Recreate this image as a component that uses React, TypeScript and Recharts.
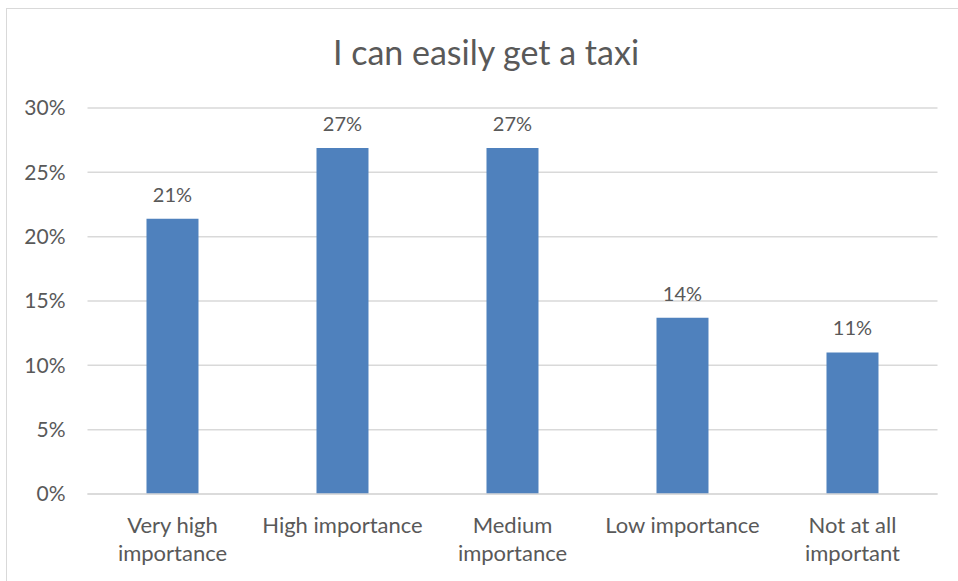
import React from "react";
import { BarChart, Bar, XAxis, YAxis, CartesianGrid, LabelList } from "recharts";

const categories = ["Very high\nimportance", "High importance", "Medium\nimportance", "Low importance", "Not at all\nimportant"];
const values = [0.214, 0.269, 0.269, 0.137, 0.11];
const yTicks = [0, 0.05, 0.1, 0.15, 0.2, 0.25, 0.3];

const data = categories.map((c, i) => ({ name: c, value: values[i] }));

const FONT = "Lato, 'Open Sans', sans-serif";
const TEXT = "#595959";

const pct = (v: number) => `${Math.round(v * 100)}%`;

const CatTick = (props: any) => {
  const { x, y, payload } = props;
  const lines = String(payload.value).split("\n");
  return (
    <g transform={`translate(${x},${y})`}>
      {lines.map((l, i) => (
        <text key={i} x={0} y={31 + i * 28} textAnchor="middle" fill={TEXT} fontSize={22} fontFamily={FONT}>
          {l}
        </text>
      ))}
    </g>
  );
};

export default function App() {
  return (
    <div style={{ position: "absolute", left: 0, top: 0, width: 958, height: 581, overflow: "hidden", background: "#fff" }}>
      <div style={{ position: "absolute", left: 6, top: 8, width: 1000, height: 640, border: "1px solid #d9d9d9", boxSizing: "border-box" }} />
      <div style={{ position: "absolute", left: 0, top: 30, width: 972, textAlign: "center", fontFamily: FONT, fontSize: 34, lineHeight: "44px", color: TEXT }}>
        I can easily get a taxi
      </div>
      <div style={{ position: "absolute", left: 0, top: 0 }}>
        <BarChart width={958} height={581} data={data} margin={{ top: 108, left: 7.5, right: 20.5, bottom: 0 }} barCategoryGap="34.7%">
          <CartesianGrid vertical={false} stroke="#d9d9d9" strokeWidth={1.5} />
          <XAxis dataKey="name" axisLine={{ stroke: "#d9d9d9", strokeWidth: 1.5 }} tickLine={false} tick={<CatTick />} height={87} interval={0} />
          <YAxis
            width={80}
            domain={[0, 0.3]}
            ticks={yTicks}
            tickFormatter={pct}
            axisLine={false}
            tickLine={false}
            tickMargin={16}
            tick={{ fill: TEXT, fontSize: 21, fontFamily: FONT }}
          />
          <Bar dataKey="value" fill="#4f81bd" isAnimationActive={false}>
            <LabelList dataKey="value" position="top" offset={17} formatter={pct} fill={TEXT} fontSize={20} fontFamily={FONT} />
          </Bar>
        </BarChart>
      </div>
    </div>
  );
}
